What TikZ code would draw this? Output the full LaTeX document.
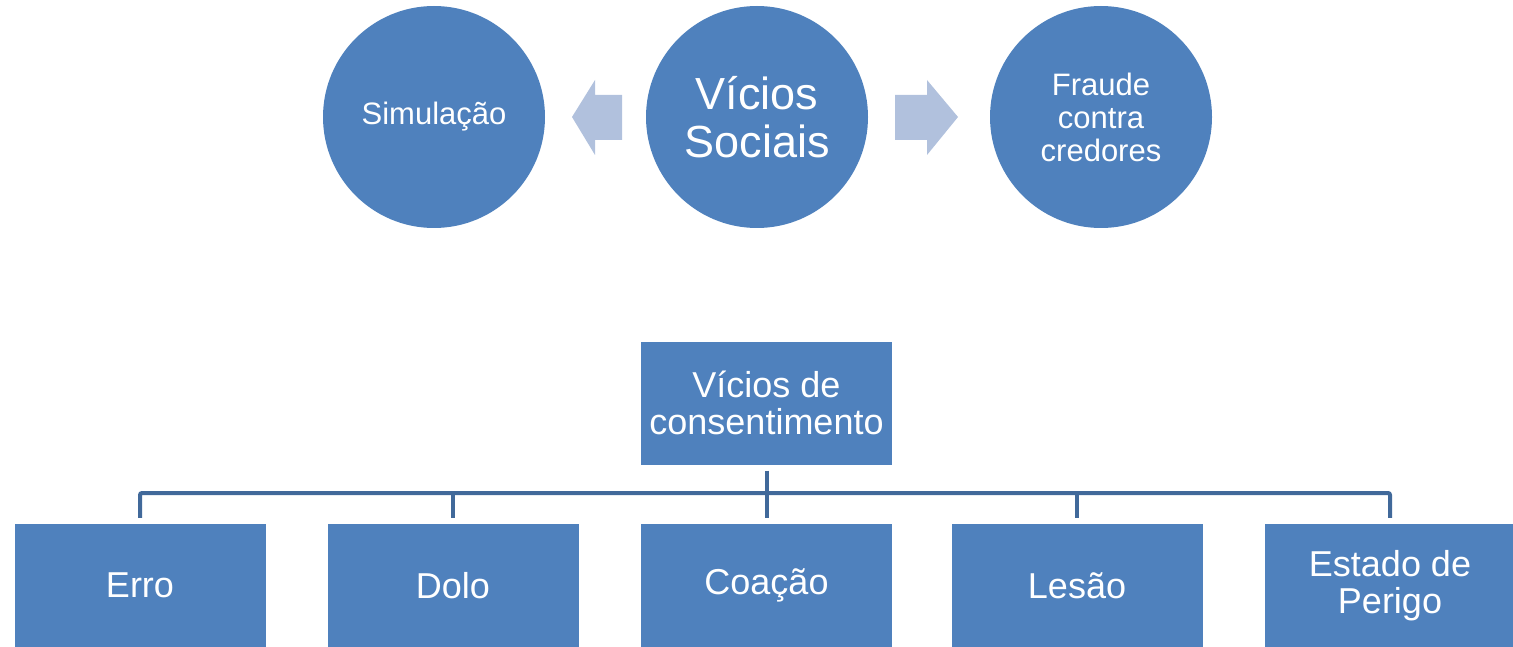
\documentclass[tikz,border=0pt]{standalone}
\usepackage{fontspec}
\setmainfont{Liberation Sans}
\usetikzlibrary{calc}
\definecolor{boxblue}{HTML}{4F81BD}
\definecolor{lineblue}{HTML}{41699A}
\definecolor{arrowblue}{HTML}{B1C1DD}
\tikzset{
  circ/.style={circle, fill=boxblue, minimum size=222, inner sep=0, text=white, align=center},
  rbox/.style={rectangle, fill=boxblue, minimum width=251, minimum height=123, inner sep=0, text=white, align=center, font=\fontsize{36}{37}\selectfont},
  conn/.style={draw=lineblue, line width=4, rounded corners=2},
  barrow/.style={fill=arrowblue}
}
\begin{document}
\begin{tikzpicture}[x=1pt,y=-1pt]
\useasboundingbox (0,0) rectangle (1513,647);
\node[circ, font=\fontsize{31}{33}\selectfont] (sim) at (434,117) {Simulação};
\node[circ, font=\fontsize{45}{48}\selectfont] (vs) at (757,117) {Vícios\\Sociais};
\node[circ, font=\fontsize{31}{33}\selectfont] (fr) at (1101,117) {Fraude\\contra\\credores};
\fill[barrow] (622,95) -- (595,95) -- (595,80) -- (572,117) -- (595,155) -- (595,140) -- (622,140) -- cycle;
\fill[barrow] (895,95) -- (927,95) -- (927,80) -- (958,117) -- (927,155) -- (927,140) -- (895,140) -- cycle;
\node[rbox] (top) at (766.5,403) {Vícios de\\consentimento};
\node[rbox] (erro) at (140,585.5) {Erro};
\node[rbox] (dolo) at (453,585.5) {Dolo};
\node[rbox] (coacao) at (766.5,585.5) {Coação};
\node[rbox] (lesao) at (1077,585.5) {Lesão};
\node[rbox] (estado) at (1390,585.5) {Estado de\\Perigo};
\coordinate (bus) at (766.5,493);
\draw[conn] ($(erro.north)+(0,-6)$) |- (bus) -| ($(estado.north)+(0,-6)$);
\draw[conn] ($(dolo.north)+(0,-6)$) -- (dolo.north |- bus);
\draw[conn] ($(lesao.north)+(0,-6)$) -- (lesao.north |- bus);
\draw[conn] ($(top.south)+(0,6)$) -- ($(coacao.north)+(0,-6)$);
\end{tikzpicture}
\end{document}
